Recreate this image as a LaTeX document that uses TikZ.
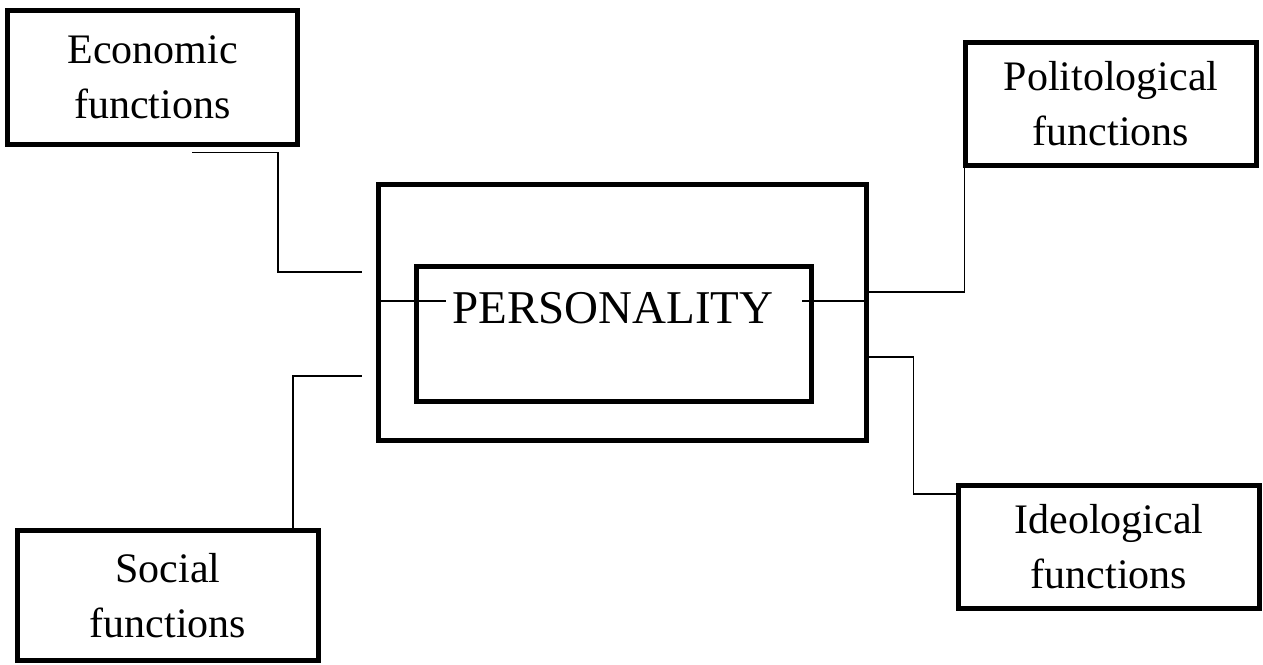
\documentclass[tikz,border=0pt]{standalone}
\usepackage{fontspec}
\setmainfont{Liberation Serif}
\usepackage{tikz}
\usetikzlibrary{calc}
\tikzset{every node/.append style={font=\fontsize{21}{27.5}\selectfont}}
\tikzset{funcbox/.style={draw, line width=2.5pt, align=center, inner sep=0pt},
         link/.style={line width=0.85pt}}

\begin{document}
\begin{tikzpicture}[x=0.5pt, y=-0.5pt]
    \useasboundingbox (0,0) rectangle (1263,664);
    % central block
    \node[funcbox, minimum width=244pt, minimum height=128pt] (outer) at (622.5,312.5) {};
    \node[funcbox, minimum width=197.5pt, minimum height=67.5pt] (inner) at (614,334) {};
    \node[anchor=base, inner sep=0pt, font=\fontsize{23.5}{28}\selectfont] (pers) at (613,323) {PERSONALITY};
    \coordinate (pl) at (446,301);
    \coordinate (pr) at (802,301);
    \draw[link] (outer.west |- pl) -- (pl);
    \draw[link] (pr) -- (pr -| outer.east);
    % function boxes
    \node[funcbox, minimum width=145pt, minimum height=67pt] (econ) at (152.5,77.5) {Economic\\functions};
    \node[funcbox, minimum width=145.5pt, minimum height=61.5pt] (polit) at (1111,104) {Politological\\functions};
    \node[funcbox, minimum width=150.5pt, minimum height=65pt] (social) at (168,595.5) {Social\\functions};
    \node[funcbox, minimum width=150.5pt, minimum height=61.5pt] (ideo) at (1109,547) {Ideological\\functions};
    % connectors
    \draw[link] ([shift={(39.5,5.5)}]econ.south) -- ++(86,0) |- ([shift={(-14.5,-40.5)}]outer.west);
    \draw[link] ([shift={(-14.5,63.5)}]outer.west) -| ([shift={(125,0)}]social.north);
    \draw[link] ([shift={(0,-20.5)}]outer.east) -| ([shift={(1.5,0)}]polit.south west);
    \draw[link] ([shift={(0,44.5)}]outer.east) -- ++(44.5,0) |- ([shift={(0,-53)}]ideo.west);
\end{tikzpicture}
\end{document}
